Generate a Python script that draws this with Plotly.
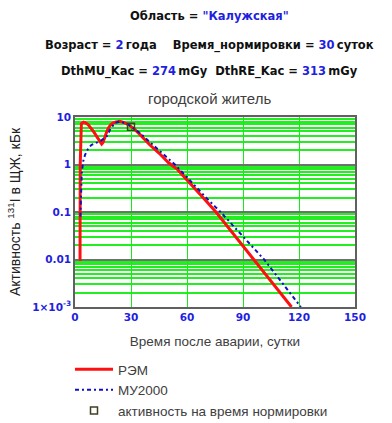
import plotly.graph_objects as go

# ---- data ----
rem_x = [2.2, 2.7, 2.8, 3.0, 3.4, 4.5, 5.5, 7.0, 8.0, 10.0, 11.6, 13.0, 14.3, 15.0, 16.0, 17.0,
         17.9, 19.0, 20.5, 22.0, 24.0, 26.0, 28.6, 30.0, 32.0, 35.0, 40.0, 45.0, 50.0, 55.0,
         60.0, 65.0, 70.0, 75.5, 80.0, 85.0, 90.0, 95.6, 100.0, 105.0, 110.0, 116.0]
rem_y = [0.01, 0.01, 1.0, 5.5, 7.2, 7.8, 7.6, 6.9, 6.2, 4.9, 3.9, 3.1, 2.7, 2.9, 3.9, 4.9,
         5.9, 6.8, 7.5, 7.9, 8.1, 7.7, 6.9, 6.3, 5.5, 4.2, 2.6, 1.74, 1.1, 0.78,
         0.48, 0.29, 0.175, 0.1, 0.06, 0.0335, 0.019, 0.01, 0.006, 0.0035, 0.002, 0.001]

mu_x = [2.9, 3.2, 3.6, 4.4, 5.4, 7.1, 8.9, 11.6, 14.0, 17.0, 18.75, 21.4, 24.0, 27.0, 30.0,
        35.0, 40.0, 45.0, 50.0, 53.5, 60.0, 65.0, 70.0, 75.0, 78.0, 85.0, 90.0, 95.0, 101.3,
        105.0, 110.0, 115.0, 121.0]
mu_y = [0.08, 0.2, 0.66, 1.17, 1.6, 2.2, 2.6, 2.9, 3.2, 3.9, 5.4, 7.5, 8.0, 7.4, 6.4,
        4.5, 3.0, 2.0, 1.35, 1.0, 0.54, 0.33, 0.205, 0.13, 0.1, 0.05, 0.031, 0.019, 0.01,
        0.0065, 0.0036, 0.002, 0.001]

norm_x = [30]
norm_y = [6.2]

x_ticks = [0, 30, 60, 90, 120, 150]
y_ticks = [0.001, 0.01, 0.1, 1, 10]
y_ticktext = ["1×10<sup>-3</sup>", "0.01", "0.1", "1", "10"]

BLUE = "#1f1fe0"
BOLDFONT = "DejaVu Sans, Verdana, sans-serif"
FONT = "Liberation Sans, Arial, sans-serif"

fig = go.Figure()
fig.add_trace(go.Scatter(x=rem_x, y=rem_y, mode="lines", name="РЭМ",
                         line=dict(color="#ff1010", width=3)))
fig.add_trace(go.Scatter(x=mu_x, y=mu_y, mode="lines", name="МУ2000",
                         line=dict(color="#1010c0", width=2, dash="4px,3px,2px,3px")))
fig.add_trace(go.Scatter(x=norm_x, y=norm_y, mode="markers", name="активность на время нормировки",
                         marker=dict(symbol="square-open", size=7, color="#404020",
                                     line=dict(width=1.5, color="#404020"))))

fig.update_xaxes(range=[0, 150], tickvals=x_ticks, showgrid=True, gridcolor="#11ee11",
                 gridwidth=1.2, zeroline=False, showline=True, mirror=True,
                 linecolor="#606060", linewidth=1.5, ticks="", automargin=False,
                 tickfont=dict(family=BOLDFONT, size=10.5, color=BLUE, weight="bold"),
                 title=dict(text="Время после аварии, сутки", standoff=14,
                            font=dict(family=FONT, size=13.5, color="#404040")))
fig.update_yaxes(type="log", range=[-3, 1], tickvals=y_ticks, ticktext=y_ticktext,
                 showgrid=True, gridcolor="#707070", gridwidth=2, zeroline=False,
                 showline=True, mirror=True, linecolor="#606060", linewidth=1.5, ticks="",
                 automargin=False,
                 minor=dict(dtick="D1", showgrid=True, gridcolor="#22ee22", gridwidth=1.5),
                 tickfont=dict(family=BOLDFONT, size=10.5, color=BLUE, weight="bold"),
                 title=dict(text="Активность <sup>131</sup>I в ЩЖ, кБк", standoff=8,
                            font=dict(family=FONT, size=14, color="#202020")))

def cx(px):
    return (px - 75) / 280.0

def cy(py):
    return (307 - py) / 190.0

NB = "\u00a0"
ann = [
    ("<b>Область = <span style='color:%s'>\"Калужская\"</span></b>" % BLUE, 16, 11.5, BOLDFONT, "#101010"),
    ("<b>Возраст = <span style='color:%s'>2</span>\u2009года%sВремя_нормировки = "
     "<span style='color:%s'>30</span>\u2009суток</b>" % (BLUE, NB * 4, BLUE), 46, 11.5, BOLDFONT, "#101010"),
    ("<b>DthMU_Kac = <span style='color:%s'>274</span>\u2009mGy%sDthRE_Kac = "
     "<span style='color:%s'>313</span>\u2009mGy</b>" % (BLUE, NB * 2, BLUE), 72, 11.5, BOLDFONT, "#101010"),
    ("городской житель", 99, 15, FONT, "#404040"),
]
for text, py, fs, fam, col in ann:
    fig.add_annotation(text=text, xref="paper", yref="paper", x=cx(209), y=cy(py),
                       xanchor="center", yanchor="middle", showarrow=False,
                       font=dict(family=fam, size=fs, color=col))

fig.update_layout(
    width=392, height=423,
    margin=dict(l=75, r=37, t=117, b=116, autoexpand=False),
    paper_bgcolor="white", plot_bgcolor="white",
    showlegend=True,
    legend=dict(x=cx(70), y=cy(354), xanchor="left", yanchor="top", itemwidth=38,
                font=dict(family=FONT, size=13.5, color="#404040"),
                bgcolor="rgba(0,0,0,0)", tracegroupgap=0),
)

fig.write_html("out.html", config={"displayModeBar": False},
               post_script="document.body.style.margin='0px';document.body.style.overflow='hidden';")
